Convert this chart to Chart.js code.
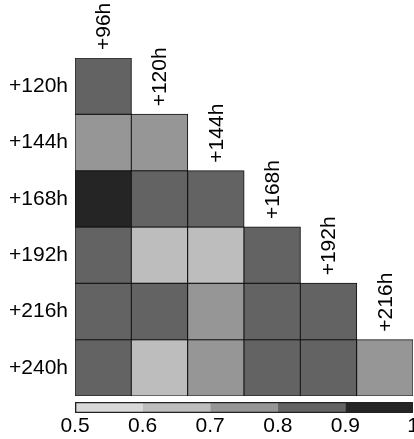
<!DOCTYPE html>
<html>
<head>
<meta charset="utf-8">
<script src="https://cdn.jsdelivr.net/npm/chart.js@4.4.1/dist/chart.umd.min.js"></script>
<style>
  html, body { margin: 0; padding: 0; background: #fff; }
  #wrap { position: relative; width: 414px; height: 439px; }
  .box { position: absolute; left: 0; width: 414px; }
</style>
</head>
<body>
<div id="wrap">
  <div class="box" style="top:0;height:397px"><canvas id="heat"></canvas></div>
  <div class="box" style="top:397px;height:42px"><canvas id="scale"></canvas></div>
</div>
<script>
// ── data ──────────────────────────────────────
const rowLabels = ['+120h', '+144h', '+168h', '+192h', '+216h', '+240h'];
const colLabels = ['+96h', '+120h', '+144h', '+168h', '+192h', '+216h'];
// lower triangle, row i has i+1 cells
const cellValues = [
  [0.85],
  [0.75, 0.75],
  [0.95, 0.85, 0.85],
  [0.85, 0.65, 0.65, 0.85],
  [0.85, 0.85, 0.75, 0.85, 0.85],
  [0.85, 0.65, 0.75, 0.85, 0.85, 0.75]
];
const binEdges = [0.5, 0.6, 0.7, 0.8, 0.9, 1];
const binColors = ['#d9d9d9', '#bdbdbd', '#969696', '#636363', '#252525'];
const scaleTicks = ['0.5', '0.6', '0.7', '0.8', '0.9', '1'];

Chart.defaults.font.family = "'Liberation Sans', Arial, sans-serif";
Chart.defaults.color = '#000';

function colorFor(v) {
  for (let i = 0; i < binColors.length; i++) if (v < binEdges[i + 1]) return binColors[i];
  return binColors[binColors.length - 1];
}

// one dataset per row, floating bars [row, row+1] on a reversed linear y
const heatSets = rowLabels.map((r, i) => ({
  label: r,
  data: colLabels.map((c, j) => (j <= i ? [i, i + 1] : null)),
  backgroundColor: colLabels.map((c, j) => (j <= i ? colorFor(cellValues[i][j]) : 'transparent')),
  borderColor: '#111',
  borderWidth: 1,
  borderSkipped: false,
  inflateAmount: 0.5,
  barPercentage: 1,
  categoryPercentage: 1,
  grouped: false
}));

// column labels sit rotated above the top cell of each column
const colLabelPlugin = {
  id: 'colLabels',
  afterDraw(chart) {
    const { ctx, scales } = chart;
    ctx.save();
    ctx.font = "21px 'Liberation Sans', Arial, sans-serif";
    ctx.fillStyle = '#000';
    ctx.textAlign = 'left';
    ctx.textBaseline = 'middle';
    colLabels.forEach((lab, j) => {
      const x = scales.x.getPixelForValue(j) + 1;
      const y = scales.y.getPixelForValue(j) - 8;
      ctx.save();
      ctx.translate(x, y);
      ctx.rotate(-Math.PI / 2);
      ctx.fillText(lab, 0, 0);
      ctx.restore();
    });
    ctx.restore();
  }
};

new Chart(document.getElementById('heat'), {
  type: 'bar',
  data: { labels: colLabels, datasets: heatSets },
  plugins: [colLabelPlugin],
  options: {
    responsive: true, maintainAspectRatio: false, animation: false,
    layout: { padding: { top: 58, right: 1, bottom: 1, left: 0 } },
    plugins: { legend: { display: false }, tooltip: { enabled: false } },
    scales: {
      x: { type: 'category', display: false },
      y: { type: 'linear', min: 0, max: 6, reverse: true, display: false },
      rows: {
        type: 'category', axis: 'y', position: 'left', labels: rowLabels, offset: true,
        grid: { display: false, drawTicks: false }, border: { display: false },
        ticks: { color: '#000', font: { size: 21 }, padding: 7 },
        afterFit: s => { s.width = 75; s.paddingTop = 0; s.paddingBottom = 0; }
      }
    }
  }
});

// colour key
const keySets = binColors.map((c, i) => ({
  data: [[binEdges[i], binEdges[i + 1]]],
  backgroundColor: c, borderWidth: 0, order: 1
}));
keySets.push({
  data: [[binEdges[0], binEdges[binEdges.length - 1]]],
  backgroundColor: 'transparent', borderColor: '#222', borderWidth: 1, borderSkipped: false, order: 0
});

new Chart(document.getElementById('scale'), {
  type: 'bar',
  data: { labels: ['key'], datasets: keySets },
  options: {
    indexAxis: 'y',
    responsive: true, maintainAspectRatio: false, animation: false,
    layout: { padding: { top: 5, right: 1, bottom: 0, left: 75 } },
    plugins: { legend: { display: false }, tooltip: { enabled: false } },
    datasets: { bar: { barPercentage: 1, categoryPercentage: 1, grouped: false } },
    scales: {
      y: { display: false },
      x: {
        type: 'linear', min: 0.5, max: 1,
        grid: { display: false, drawTicks: false }, border: { display: false },
        ticks: { stepSize: 0.1, color: '#000', font: { size: 21 }, padding: 1, maxRotation: 0,
                 autoSkip: false, callback: (v, i) => scaleTicks[i] },
        afterFit: s => { s.paddingLeft = 0; s.paddingRight = 0; s.height = 26; }
      }
    }
  }
});
</script>
</body>
</html>
